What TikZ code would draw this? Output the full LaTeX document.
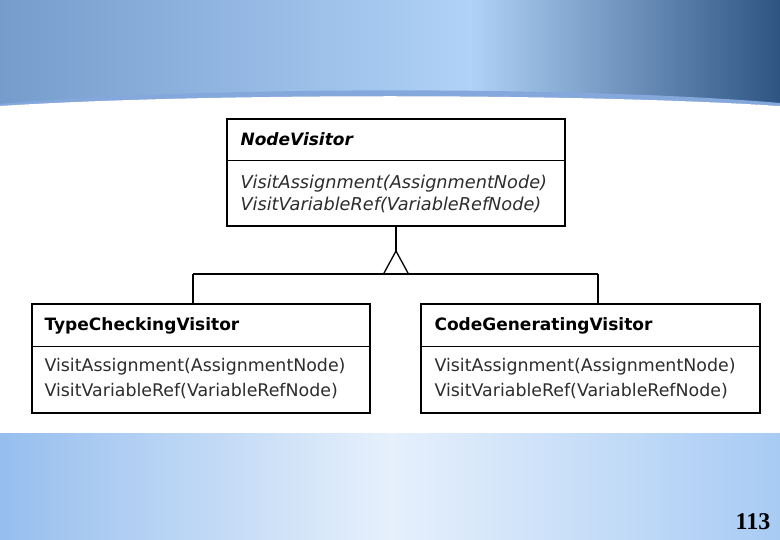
\documentclass[tikz,border=0pt]{standalone}
\usepackage{fontspec}
\setmainfont{DejaVu Sans}
\newfontfamily\pagefont{Liberation Serif}
\usetikzlibrary{positioning}

\definecolor{skyleft}{RGB}{118,156,204}
\definecolor{skylight}{RGB}{176,210,248}
\definecolor{skydark}{RGB}{46,84,130}
\definecolor{floorleft}{RGB}{150,190,238}
\definecolor{floorlight}{RGB}{230,240,252}
\definecolor{floorright}{RGB}{168,203,244}
\definecolor{stripe}{RGB}{132,168,220}
\definecolor{optext}{RGB}{45,45,45}

\begin{document}
\begin{tikzpicture}[
    x=1pt, y=-1pt,
    classbox/.style={draw=black, line width=1.3pt, fill=white, inner sep=0pt,
        minimum width=338pt, minimum height=108pt},
    classname/.style={font=\fontsize{17}{20}\selectfont\bfseries, inner sep=0pt},
    methods/.style={font=\fontsize{17.4}{25}\selectfont, align=left, inner sep=0pt, text=optext},
    divider/.style={line width=0.7pt},
    edge/.style={line width=1.3pt}
]

\useasboundingbox (0,0) rectangle (780,540);

% Background: sky band, white sheet, floor band
\shade[left color=skyleft, right color=skylight] (0,0) rectangle (470,106);
\shade[left color=skylight, right color=skydark] (470,0) rectangle (780,106);
\fill[stripe] (0,104) .. controls (200,86) and (580,86) .. (780,103)
    -- (780,106) .. controls (580,94) and (200,94) .. (0,106) -- cycle;
\fill[white] (0,106) .. controls (200,93) and (580,93) .. (780,106)
    -- (780,433) -- (0,433) -- cycle;
\shade[left color=floorleft, right color=floorright, middle color=floorlight]
    (0,433) rectangle (780,540);

% Superclass
\node[classbox, minimum height=107pt] (nv) at (396,172.5) {};
\node[classname, font=\fontsize{17}{20}\selectfont\bfseries\itshape,
    below right=14pt and 14pt of nv.north west] (nvname) {NodeVisitor};
\draw[divider] ([yshift=-42pt]nv.north west) -- ([yshift=-42pt]nv.north east);
\node[methods, font=\fontsize{17.7}{22}\selectfont\itshape,
    below right=57pt and 14pt of nv.north west] (nvops)
    {VisitAssignment(AssignmentNode)\\VisitVariableRef(VariableRefNode)};

% Subclasses
\node[classbox, minimum height=109pt] (tcv) at (201,358.5) {};
\node[classname, below right=14pt and 13pt of tcv.north west] (tcvname) {TypeCheckingVisitor};
\draw[divider] ([yshift=-43pt]tcv.north west) -- ([yshift=-43pt]tcv.north east);
\node[methods, below right=55pt and 13pt of tcv.north west] (tcvops)
    {VisitAssignment(AssignmentNode)\\VisitVariableRef(VariableRefNode)};

\node[classbox, minimum width=339pt, minimum height=109pt] (cgv) at (590.5,358.5) {};
\node[classname, below right=14pt and 14pt of cgv.north west] (cgvname) {CodeGeneratingVisitor};
\draw[divider] ([yshift=-43pt]cgv.north west) -- ([yshift=-43pt]cgv.north east);
\node[methods, below right=55pt and 14pt of cgv.north west] (cgvops)
    {VisitAssignment(AssignmentNode)\\VisitVariableRef(VariableRefNode)};

% Inheritance
\coordinate (apex) at (396,251);
\coordinate (lknee) at (193,274);
\coordinate (rknee) at (598,274);
\draw[edge] (nv.south) -- (apex);
\draw[edge] (apex) -- ++(-12.5,23) -- ++(25,0) -- cycle;
\draw[edge] (lknee) -- (rknee);
\draw[edge] (lknee) -- (lknee |- tcv.north);
\draw[edge] (rknee) -- (rknee |- cgv.north);

% Slide number
\node[font=\pagefont\bfseries\fontsize{24}{24}\selectfont] (page) at (753,522) {113};

\end{tikzpicture}
\end{document}
